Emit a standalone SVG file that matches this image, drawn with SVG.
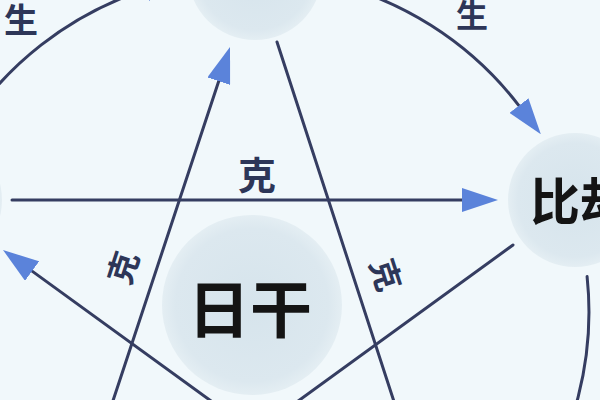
<svg xmlns="http://www.w3.org/2000/svg" width="600" height="400" viewBox="0 0 600 400">
  <style>
    .node { fill: url(#nodeFill); }
    .line { fill: none; stroke: #353d61; stroke-width: 3; stroke-linecap: round; }
    .lbl { font-family: "Noto Sans CJK SC", "Noto Sans", sans-serif; font-weight: 700; fill: #2d3658; }
    .main { font-family: "Noto Sans CJK SC", "Noto Sans", sans-serif; font-weight: 700; fill: #141414; }
  </style>
  <defs>
    <radialGradient id="nodeFill" cx="50%" cy="50%" r="50%">
      <stop offset="0%" stop-color="#d6e4ec"/>
      <stop offset="85%" stop-color="#dce8ef"/>
      <stop offset="100%" stop-color="#e4eef3"/>
    </radialGradient>
    <marker id="ah" markerUnits="userSpaceOnUse" viewBox="0 0 36 24" markerWidth="36" markerHeight="24" refX="0" refY="12" orient="auto">
      <path d="M0,0 L36,12 L0,24 Z" fill="#5b83da"/>
    </marker>
  </defs>
  <rect width="600" height="400" fill="#f1f8fb"/>

  <g id="node-top"><circle class="node" cx="255" cy="-27" r="67"/></g>
  <g id="node-left"><circle class="node" cx="-66" cy="200" r="68"/></g>
  <g id="node-right">
    <circle class="node" cx="575" cy="200" r="67"/>
    <text class="main" x="530" y="220" font-size="50">比劫</text>
  </g>
  <g id="node-bottom-left"><circle class="node" cx="54" cy="578" r="67"/></g>
  <g id="node-bottom-right"><circle class="node" cx="450" cy="574" r="67"/></g>
  <g id="node-center">
    <circle class="node" cx="252" cy="305" r="90"/>
    <text class="main" x="250" y="333" font-size="62" text-anchor="middle">日干</text>
  </g>

  <g id="connectors">
    <path class="line" d="M-37.5,132.4 A339,339 0 0 1 145.2,-10.4" marker-end="url(#ah)"/>
    <path class="line" d="M320.5,-19.6 A339,339 0 0 1 518.9,105.6" marker-end="url(#ah)"/>
    <path class="line" d="M587.1,276.6 A339,339 0 0 1 527.7,506.4" marker-end="url(#ah)"/>
    <path class="line" d="M12,200 L462,200" marker-end="url(#ah)"/>
    <path class="line" d="M100,440 L218.7,81.2" marker-end="url(#ah)"/>
    <path class="line" d="M277,42 L400,420"/>
    <path class="line" d="M513,245 L272,420"/>
    <path class="line" d="M240,422 L32.1,271.1" marker-end="url(#ah)"/>
  </g>

  <g id="labels">
    <text class="lbl" x="21" y="33" font-size="34" text-anchor="middle">生</text>
    <text class="lbl" x="472" y="27" font-size="32" text-anchor="middle">生</text>
    <text class="lbl" x="257" y="189" font-size="38" text-anchor="middle">克</text>
    <text class="lbl" font-size="32" text-anchor="middle" transform="translate(124,268) rotate(-72)" y="11">克</text>
    <text class="lbl" font-size="32" text-anchor="middle" transform="translate(385,275) rotate(72)" y="11">克</text>
  </g>
</svg>
